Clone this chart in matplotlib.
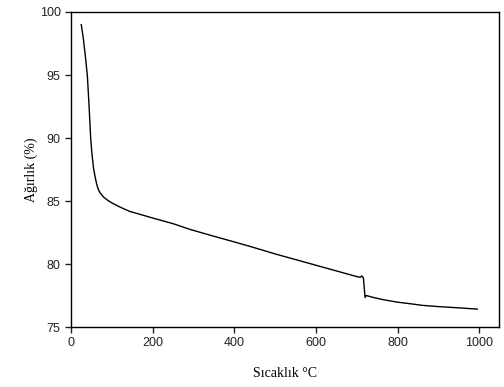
import matplotlib.pyplot as plt

# temperature (C) and weight (%)
temp = [25, 30, 35, 40, 44, 48, 51, 55, 59, 63, 67, 71, 80, 90, 100, 116, 128, 144, 170,
        200, 250, 291, 350, 400, 438, 500, 550, 600, 650, 700, 708, 712, 716, 720,
        723, 740, 760, 780, 800, 830, 860, 900, 950, 995]
weight = [99.0, 97.9, 96.5, 94.9, 92.6, 90.0, 88.8, 87.6, 86.9, 86.3, 85.9, 85.65, 85.3,
          85.05, 84.85, 84.58, 84.4, 84.17, 83.93, 83.65, 83.2, 82.75, 82.2, 81.75, 81.4,
          80.8, 80.35, 79.9, 79.45, 79.0, 78.95, 79.05, 78.9, 77.35, 77.5, 77.35,
          77.2, 77.08, 76.97, 76.85, 76.72, 76.62, 76.52, 76.42]

fig = plt.figure(figsize=(5.04, 3.87), dpi=100)
ax = fig.add_axes([0.141, 0.155, 0.849, 0.814])
ax.plot(temp, weight, color='black', linewidth=1.0)

ax.set_xlim(0, 1048)
ax.set_ylim(75, 100)
ax.set_xticks([0, 200, 400, 600, 800, 1000])
ax.set_yticks([75, 80, 85, 90, 95, 100])
ax.tick_params(direction='out', length=4, width=1, labelsize=9, colors='#222222')
for lab in ax.get_xticklabels() + ax.get_yticklabels():
    lab.set_family('Liberation Sans')
for s in ax.spines.values():
    s.set_linewidth(1.0)

ax.set_xlabel('Sıcaklık °C', family='Liberation Serif', fontsize=10, labelpad=13)
ax.set_ylabel('Ağırlık (%)', family='Liberation Serif', fontsize=10, labelpad=1)

fig.savefig('out.png', dpi=100)
